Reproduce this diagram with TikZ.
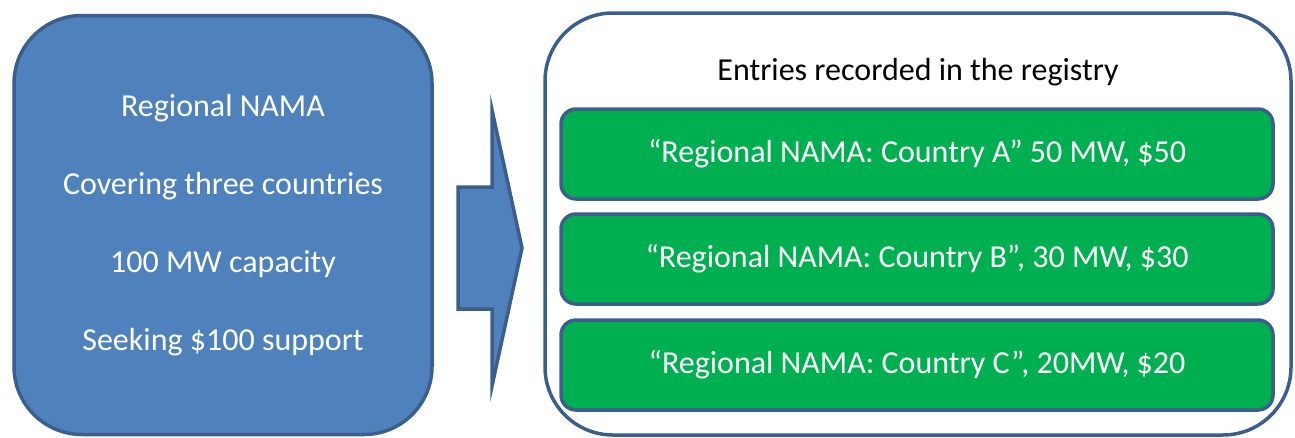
\documentclass[tikz,border=0pt]{standalone}
\usepackage{fontspec}
\setmainfont{Carlito}
\usetikzlibrary{positioning}
\definecolor{namablue}{HTML}{4F81BD}
\definecolor{namaedge}{HTML}{3A5F8C}
\definecolor{entrygreen}{HTML}{00B050}

\begin{document}
\begin{tikzpicture}[
        x=1pt, y=-1pt,
        bigbox/.style={rectangle, rounded corners=68pt, draw=namaedge, line width=3.5pt,
            minimum width=418pt, minimum height=419pt},
        entry/.style={rectangle, rounded corners=15pt, draw=namaedge, line width=3.5pt,
            fill=entrygreen, text=white, font=\fontsize{32}{36}\selectfont,
            minimum width=712pt, minimum height=90pt},
    ]
        \useasboundingbox (0,0) rectangle (1295,437);

        \node[bigbox, fill=namablue, text=white, align=center, font=\fontsize{32}{78}\selectfont] (nama) at (223,225)
            {Regional NAMA\\Covering three countries\\100 MW capacity\\Seeking \$100 support};

        \draw[fill=namablue, draw=namaedge, line width=3.5pt, line join=miter]
            (458,187) -- (492,187) -- (492,110) -- (522,248) -- (492,386) -- (492,309) -- (458,309) -- cycle;

        \node[bigbox, minimum width=746pt, minimum height=422pt] (registry) at (918,224) {};
        \node[font=\fontsize{32}{36}\selectfont] (title) at (918,72) {Entries recorded in the registry};

        \node[entry] (entryA) at (917,154) {“Regional NAMA: Country A” 50 MW, \$50};
        \node[entry] (entryB) at (917,259) {“Regional NAMA: Country B”, 30 MW, \$30};
        \node[entry] (entryC) at (917,365) {“Regional NAMA: Country C”, 20MW, \$20};
    \end{tikzpicture}
\end{document}
